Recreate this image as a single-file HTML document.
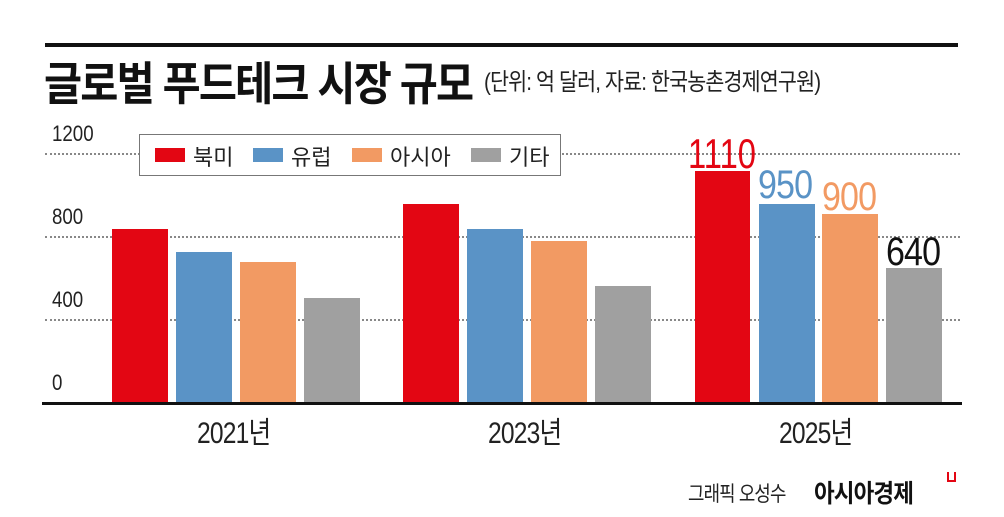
<!DOCTYPE html>
<html><head><meta charset="utf-8"><style>
body{margin:0;width:1004px;height:517px;background:#fff;position:relative;overflow:hidden;font-family:"Liberation Sans","Noto Sans CJK KR",sans-serif;}
.a{position:absolute;white-space:nowrap;}
.bar{position:absolute;}
.g{position:absolute;left:45px;width:915px;border-top:2px dotted #888;}
.t{transform-origin:left top;}
</style></head><body>
<div class="a" style="left:45px;top:43px;width:913px;height:4px;background:#111"></div>
<div class="a t" style="left:44px;top:48px;font-size:46px;font-weight:bold;letter-spacing:-2px;color:#111;transform:scaleX(0.9)">글로벌 푸드테크 시장 규모</div>
<div class="a t" style="left:484px;top:62px;font-size:24px;color:#222;letter-spacing:-1px;transform:scaleX(0.86)">(단위: 억 달러, 자료: 한국농촌경제연구원)</div>

<div class="g" style="top:153px"></div>
<div class="g" style="top:236px"></div>
<div class="g" style="top:319px"></div>
<div class="a t" style="left:52px;top:121px;font-size:22px;color:#222;transform:scaleX(0.85)">1200</div>
<div class="a t" style="left:52px;top:204px;font-size:22px;color:#222;transform:scaleX(0.85)">800</div>
<div class="a t" style="left:52px;top:287px;font-size:22px;color:#222;transform:scaleX(0.85)">400</div>
<div class="a t" style="left:52px;top:370px;font-size:22px;color:#222;transform:scaleX(0.85)">0</div>

<div class="a" style="left:139px;top:134px;width:420px;height:40px;border:1px solid #777;background:#fff"></div>
<div class="bar" style="left:155px;top:148px;width:30px;height:14px;background:#e30613"></div>
<div class="a" style="left:193px;top:140px;font-size:22px;color:#222">북미</div>
<div class="bar" style="left:253px;top:148px;width:30px;height:14px;background:#5a93c6"></div>
<div class="a" style="left:291px;top:140px;font-size:22px;color:#222">유럽</div>
<div class="bar" style="left:352px;top:148px;width:30px;height:14px;background:#f29a63"></div>
<div class="a" style="left:390px;top:140px;font-size:22px;color:#222">아시아</div>
<div class="bar" style="left:471px;top:148px;width:30px;height:14px;background:#a0a0a0"></div>
<div class="a" style="left:509px;top:140px;font-size:22px;color:#222">기타</div>

<div class="bar" style="left:112px;top:229px;width:56px;height:174px;background:#e30613"></div>
<div class="bar" style="left:176px;top:252px;width:56px;height:151px;background:#5a93c6"></div>
<div class="bar" style="left:240px;top:262px;width:56px;height:141px;background:#f29a63"></div>
<div class="bar" style="left:304px;top:298px;width:56px;height:105px;background:#a0a0a0"></div>
<div class="bar" style="left:403px;top:204px;width:56px;height:199px;background:#e30613"></div>
<div class="bar" style="left:467px;top:229px;width:56px;height:174px;background:#5a93c6"></div>
<div class="bar" style="left:531px;top:241px;width:56px;height:162px;background:#f29a63"></div>
<div class="bar" style="left:595px;top:286px;width:56px;height:117px;background:#a0a0a0"></div>
<div class="bar" style="left:695px;top:171px;width:55px;height:232px;background:#e30613"></div>
<div class="bar" style="left:759px;top:204px;width:56px;height:199px;background:#5a93c6"></div>
<div class="bar" style="left:822px;top:214px;width:56px;height:189px;background:#f29a63"></div>
<div class="bar" style="left:886px;top:268px;width:56px;height:135px;background:#a0a0a0"></div>

<div class="a t" style="left:688px;top:130px;font-size:42px;color:#e30613;letter-spacing:0px;transform:scaleX(0.78)">1110</div>
<div class="a t" style="left:758px;top:163px;font-size:40px;color:#5a93c6;letter-spacing:-1px;transform:scaleX(0.85)">950</div>
<div class="a t" style="left:822px;top:175px;font-size:40px;color:#f29a63;letter-spacing:-1px;transform:scaleX(0.85)">900</div>
<div class="a t" style="left:886px;top:230px;font-size:40px;color:#111;letter-spacing:-1px;transform:scaleX(0.85)">640</div>

<div class="a" style="left:42px;top:402px;width:920px;height:3px;background:#111"></div>

<div class="a t" style="left:197px;top:408px;font-size:30px;color:#222;letter-spacing:-1px;transform:scaleX(0.82)">2021년</div>
<div class="a t" style="left:488px;top:408px;font-size:30px;color:#222;letter-spacing:-1px;transform:scaleX(0.82)">2023년</div>
<div class="a t" style="left:779px;top:408px;font-size:30px;color:#222;letter-spacing:-1px;transform:scaleX(0.82)">2025년</div>

<div class="a t" style="left:688px;top:478px;font-size:21px;color:#222;letter-spacing:-1px;transform:scaleX(0.85)">그래픽 오성수</div>
<div class="a t" style="left:814px;top:474px;font-size:25px;font-weight:bold;color:#111;letter-spacing:-1px;transform:scaleX(0.9)">아시아경제</div>
<div class="a" style="left:947px;top:472px;width:5px;height:8px;border:2px solid #e30613;border-top:none"></div>
</body></html>
